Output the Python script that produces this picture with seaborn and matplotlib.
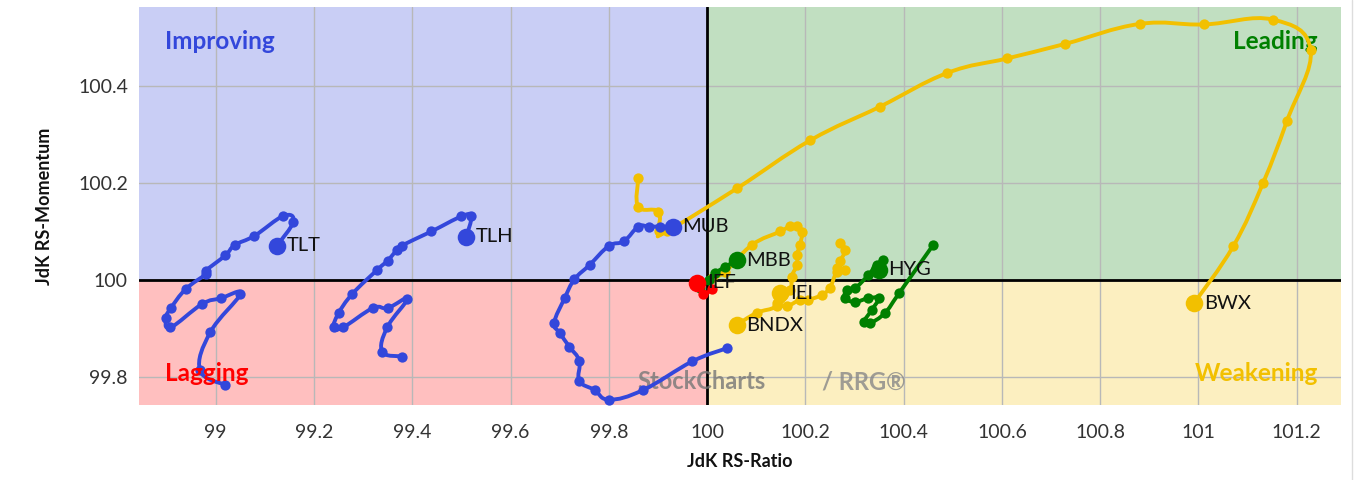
import matplotlib
matplotlib.use("Agg")
import matplotlib.pyplot as plt
from matplotlib.path import Path
from matplotlib.patches import PathPatch, Rectangle
from matplotlib.lines import Line2D
import numpy as np
import pandas as pd
import seaborn as sns

# --- DATOS (JdK RS-Ratio / JdK RS-Momentum, cola -> cabeza) ---
tlt_x = [99.020, 98.968, 98.989, 99.050, 99.010, 98.972, 98.908, 98.899, 98.909,
         98.939, 98.980, 98.980, 99.020, 99.039, 99.079, 99.138, 99.158, 99.125]
tlt_y = [99.783, 99.814, 99.892, 99.971, 99.962, 99.950, 99.902, 99.922, 99.942,
         99.981, 100.012, 100.019, 100.051, 100.072, 100.091, 100.132, 100.120, 100.071]

tlh_x = [99.379, 99.339, 99.349, 99.390, 99.350, 99.320, 99.259, 99.240, 99.250,
         99.278, 99.329, 99.350, 99.369, 99.379, 99.439, 99.500, 99.520, 99.510]
tlh_y = [99.842, 99.852, 99.902, 99.961, 99.942, 99.942, 99.902, 99.902, 99.931,
         99.971, 100.021, 100.040, 100.062, 100.071, 100.100, 100.131, 100.131, 100.089]

mub_x = [100.040, 99.970, 99.870, 99.801, 99.771, 99.740, 99.740, 99.720, 99.700, 99.689,
         99.710, 99.730, 99.761, 99.800, 99.831, 99.860, 99.881, 99.904, 99.930]
mub_y = [99.859, 99.832, 99.773, 99.753, 99.773, 99.792, 99.833, 99.862, 99.891, 99.912,
         99.962, 100.001, 100.031, 100.070, 100.080, 100.110, 100.110, 100.110, 100.110]

bwx_x = [99.860, 99.860, 99.901, 99.902, 99.918, 100.061, 100.210, 100.351, 100.489, 100.611,
         100.729, 100.880, 101.011, 101.151, 101.228, 101.180, 101.131, 101.071, 100.991]
bwx_y = [100.210, 100.151, 100.141, 100.100, 100.100, 100.189, 100.288, 100.357, 100.427, 100.457,
         100.487, 100.528, 100.527, 100.537, 100.475, 100.328, 100.199, 100.070, 99.952]

bndx_x = [100.010, 100.037, 100.091, 100.149, 100.169, 100.183, 100.193, 100.189,
          100.183, 100.183, 100.172, 100.169, 100.142, 100.101, 100.060]
bndx_y = [100.004, 100.017, 100.072, 100.100, 100.111, 100.111, 100.098, 100.072,
          100.052, 100.031, 100.007, 99.979, 99.946, 99.932, 99.907]

iei_x = [100.271, 100.281, 100.271, 100.264, 100.281, 100.264, 100.250, 100.233,
         100.206, 100.189, 100.162, 100.142, 100.149]
iei_y = [100.076, 100.062, 100.039, 100.024, 100.021, 100.016, 99.984, 99.969,
         99.959, 99.959, 99.946, 99.953, 99.973]

hyg_x = [100.460, 100.391, 100.362, 100.332, 100.319, 100.335, 100.349, 100.328,
         100.301, 100.281, 100.284, 100.301, 100.328, 100.345, 100.359, 100.349]
hyg_y = [100.072, 99.973, 99.932, 99.911, 99.913, 99.938, 99.962, 99.962,
         99.955, 99.962, 99.979, 99.983, 100.010, 100.031, 100.041, 100.021]

mbb_x = [99.986, 100.003, 100.016, 100.037, 100.060]
mbb_y = [99.983, 100.000, 100.014, 100.027, 100.041]

ief_x = [100.010, 99.992, 99.980]
ief_y = [99.981, 99.971, 99.994]

# orden de dibujo y colores
names = ["BWX", "BNDX", "IEI", "TLT", "TLH", "MUB", "HYG", "MBB", "IEF"]
xs = [bwx_x, bndx_x, iei_x, tlt_x, tlh_x, mub_x, hyg_x, mbb_x, ief_x]
ys = [bwx_y, bndx_y, iei_y, tlt_y, tlh_y, mub_y, hyg_y, mbb_y, ief_y]
BLUE, YELLOW, GREEN, RED = "#3347db", "#f2c000", "#008000", "#ff0000"
colors = {"BWX": YELLOW, "BNDX": YELLOW, "IEI": YELLOW, "TLT": BLUE, "TLH": BLUE,
          "MUB": BLUE, "HYG": GREEN, "MBB": GREEN, "IEF": RED}

x_ticks = [99, 99.2, 99.4, 99.6, 99.8, 100, 100.2, 100.4, 100.6, 100.8, 101, 101.2]
y_ticks = [99.8, 100, 100.2, 100.4]
XMIN, XMAX = 98.844, 101.29
YMIN, YMAX = 99.742, 100.563


def smooth_path(px, py, k=0.2):
    # curva suave (bezier) que pasa por todos los puntos
    pts = np.column_stack([px, py])
    n = len(pts)
    verts = [pts[0]]
    codes = [Path.MOVETO]
    for i in range(n - 1):
        p0 = pts[i - 1] if i > 0 else pts[i]
        p1, p2 = pts[i], pts[i + 1]
        p3 = pts[i + 2] if i + 2 < n else pts[i + 1]
        verts += [p1 + (p2 - p0) * k, p2 - (p3 - p1) * k, p2]
        codes += [Path.CURVE4] * 3
    return Path(verts, codes)


# --- FIGURA ---
sns.set_theme(style="white")
plt.rcParams["font.family"] = ["Lato", "DejaVu Sans"]

fig = plt.figure(figsize=(13.58, 4.8), dpi=100)
ax = fig.add_axes([139 / 1358, 75 / 480, 1202 / 1358, 398 / 480])
ax.set_xlim(XMIN, XMAX)
ax.set_ylim(YMIN, YMAX)

# cuadrantes
ax.add_patch(Rectangle((XMIN, 100), 100 - XMIN, YMAX - 100, color="#c9cef5", zorder=0))
ax.add_patch(Rectangle((100, 100), XMAX - 100, YMAX - 100, color="#c1dfc1", zorder=0))
ax.add_patch(Rectangle((XMIN, YMIN), 100 - XMIN, 100 - YMIN, color="#ffbfbf", zorder=0))
ax.add_patch(Rectangle((100, YMIN), XMAX - 100, 100 - YMIN, color="#fcefc0", zorder=0))

ax.set_xticks(x_ticks)
ax.set_xticklabels([f"{t:g}" for t in x_ticks])
ax.set_yticks(y_ticks)
ax.set_yticklabels([f"{t:g}" for t in y_ticks])
ax.grid(True, color="#b8b8b8", linewidth=1, zorder=1)
ax.set_axisbelow(True)
ax.axvline(100, color="black", linewidth=2, zorder=2)
ax.axhline(100, color="black", linewidth=2, zorder=2)
for s in ax.spines.values():
    s.set_visible(False)
ax.tick_params(length=0, labelsize=14, labelcolor="#333333")
ax.tick_params(axis="x", pad=14)
ax.tick_params(axis="y", pad=8)

# nombres de cuadrantes
ax.text(98.897, 100.491, "Improving", color="#3347db", fontsize=17.5, fontweight="bold",
        ha="left", va="center", zorder=3)
ax.text(101.243, 100.491, "Leading", color="#008000", fontsize=17.5, fontweight="bold",
        ha="right", va="center", zorder=3)
ax.text(98.897, 99.808, "Lagging", color="#ff0000", fontsize=17.5, fontweight="bold",
        ha="left", va="center", zorder=6)
ax.text(101.243, 99.808, "Weakening", color="#f2c000", fontsize=17.5, fontweight="bold",
        ha="right", va="center", zorder=3)

# marca de agua
ax.text(0.415, 0.058, "StockCharts", transform=ax.transAxes, fontsize=17, fontweight="bold",
        color="#777777", alpha=0.8, ha="left", va="center", zorder=2)
ax.text(0.568, 0.058, "/ RRG®", transform=ax.transAxes, fontsize=17, fontweight="bold",
        color="#888888", alpha=0.8, ha="left", va="center", zorder=2)

# trayectorias
rows = []
for i, (name, px, py) in enumerate(zip(names, xs, ys)):
    z = 4 + i * 0.1
    ax.add_patch(PathPatch(smooth_path(px, py), facecolor="none", edgecolor=colors[name],
                           linewidth=2.8, capstyle="round", joinstyle="round", zorder=z))
    for j, (a, b) in enumerate(zip(px, py)):
        rows.append({"name": name, "x": a, "y": b, "head": j == len(px) - 1})
df = pd.DataFrame(rows)

for i, name in enumerate(names):
    sub = df[df["name"] == name]
    sns.scatterplot(data=sub[~sub["head"]], x="x", y="y", color=colors[name], s=55,
                    linewidth=0, ax=ax, zorder=4.05 + i * 0.1, legend=False)
    sns.scatterplot(data=sub[sub["head"]], x="x", y="y", color=colors[name], s=160,
                    linewidth=0, ax=ax, zorder=4.06 + i * 0.1, legend=False)
    ax.annotate(name, (xs[i][-1], ys[i][-1]), xytext=(7, 0), textcoords="offset points",
                fontsize=14.5, color="#111111", ha="left", va="center", zorder=5)

ax.set_xlabel("JdK RS-Ratio", fontsize=13, fontweight="bold", color="#111111", labelpad=8)
ax.set_ylabel("JdK RS-Momentum", fontsize=13, fontweight="bold", color="#111111", labelpad=18)

# borde derecho del contenedor
fig.add_artist(Line2D([1352 / 1358, 1352 / 1358], [0, 1], color="#dddddd", linewidth=1))

plt.savefig("out.png", dpi=100)
plt.close()
